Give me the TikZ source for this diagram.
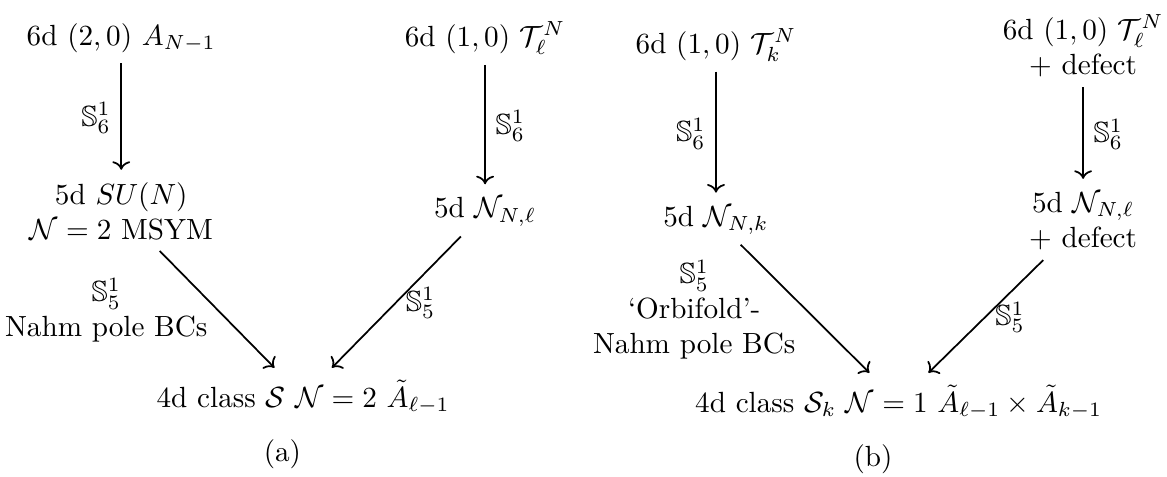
\documentclass[tikz,border=0pt]{standalone}
\usepackage{amsmath, amssymb}
\usetikzlibrary{arrows.meta, positioning}

\begin{document}
\begin{tikzpicture}[map/.style={->, line width=0.6pt, shorten >=1pt}, txt/.style={align=center}]
            \useasboundingbox (0,0) rectangle (14.05,-5.74);
            % (a)
            \node (a6L) at (1.46,-0.46) {6d $(2,0)$ $A_{N-1}$};
            \node (a6R) at (5.84,-0.46) {6d $(1,0)$ $\mathcal{T}_\ell^N$};
            \node[txt] (a5L) at (1.46,-2.55) {5d $SU(N)$\\ $\mathcal{N}=2$ MSYM};
            \node (a5R) at (5.84,-2.55) {5d $\mathcal{N}_{N,\ell}$};
            \node (a4) at (3.65,-4.78) {4d class $\mathcal{S}$ $\mathcal{N}=2$ $\tilde{A}_{\ell-1}$};
            \node (capA) at (3.40,-5.47) {(a)};
            \draw[map] (a6L) -- (a5L) node[midway, left] {$\mathbb{S}^1_6$};
            \draw[map] (a6R) -- (a5R) node[midway, right] {$\mathbb{S}^1_6$};
            \draw[map] (a5L) -- (a4) node[midway, left, txt] {$\mathbb{S}^1_5$\\ Nahm pole BCs};
            \draw[map] (a5R) -- (a4) node[midway, right] {$\mathbb{S}^1_5$};
            % (b)
            \node (b6L) at (8.62,-0.54) {6d $(1,0)$ $\mathcal{T}_k^N$};
            \node[txt] (b6R) at (13.04,-0.55) {6d $(1,0)$ $\mathcal{T}_\ell^N$\\ $+$ defect};
            \node (b5L) at (8.62,-2.65) {5d $\mathcal{N}_{N,k}$};
            \node[txt] (b5R) at (13.04,-2.66) {5d $\mathcal{N}_{N,\ell}$\\ $+$ defect};
            \node (b4) at (10.82,-4.84) {4d class $\mathcal{S}_k$ $\mathcal{N}=1$ $\tilde{A}_{\ell-1}\times\tilde{A}_{k-1}$};
            \node (capB) at (10.51,-5.53) {(b)};
            \draw[map] (b6L) -- (b5L) node[midway, left] {$\mathbb{S}^1_6$};
            \draw[map] (b6R) -- (b5R) node[midway, right] {$\mathbb{S}^1_6$};
            \draw[map] (b5L) -- (b4) node[midway, left, txt] {$\mathbb{S}^1_5$\\ `Orbifold'-\\ Nahm pole BCs};
            \draw[map] (b5R) -- (b4) node[midway, right] {$\mathbb{S}^1_5$};
         \end{tikzpicture}
\end{document}
